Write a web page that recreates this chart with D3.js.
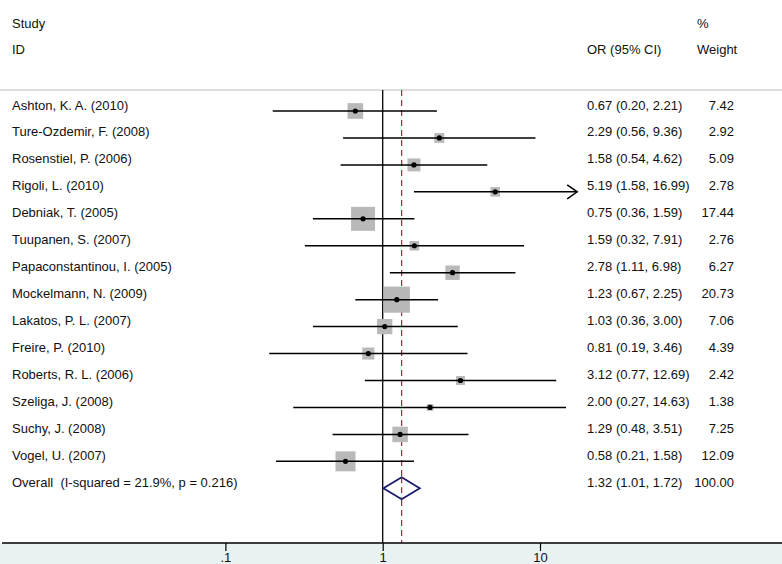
<!DOCTYPE html>
<html>
<head>
<meta charset="utf-8">
<script src="https://cdn.jsdelivr.net/npm/d3@7"></script>
<style>
  body { margin: 0; background: #fff; }
  svg { display: block; }
  text { font-family: "Liberation Sans", Arial, sans-serif; font-size: 13px; fill: #111; white-space: pre; }
</style>
</head>
<body>
<svg id="chart" width="782" height="564"></svg>
<script>
const studies = ["Ashton, K. A. (2010)", "Ture-Ozdemir, F. (2008)", "Rosenstiel, P. (2006)", "Rigoli, L. (2010)",
  "Debniak, T. (2005)", "Tuupanen, S. (2007)", "Papaconstantinou, I. (2005)", "Mockelmann, N. (2009)",
  "Lakatos, P. L. (2007)", "Freire, P. (2010)", "Roberts, R. L. (2006)", "Szeliga, J. (2008)",
  "Suchy, J. (2008)", "Vogel, U. (2007)"];
const or = [0.67, 2.29, 1.58, 5.19, 0.75, 1.59, 2.78, 1.23, 1.03, 0.81, 3.12, 2.00, 1.29, 0.58];
const lower = [0.20, 0.56, 0.54, 1.58, 0.36, 0.32, 1.11, 0.67, 0.36, 0.19, 0.77, 0.27, 0.48, 0.21];
const upper = [2.21, 9.36, 4.62, 16.99, 1.59, 7.91, 6.98, 2.25, 3.00, 3.46, 12.69, 14.63, 3.51, 1.58];
const weights = [7.42, 2.92, 5.09, 2.78, 17.44, 2.76, 6.27, 20.73, 7.06, 4.39, 2.42, 1.38, 7.25, 12.09];
const overallLabel = "Overall  (I-squared = 21.9%, p = 0.216)";
const overall = { or: 1.32, lower: 1.01, upper: 1.72, weight: 100.00 };
const xTicks = [0.1, 1, 10];
const xTickLabels = [".1", "1", "10"];
const axisClip = 16.5; // CIs beyond this are drawn with an arrow

const svg = d3.select("#chart");
const W = 782, H = 564;
const plotTop = 90, axisY = 543;

const x = d3.scaleLog().domain([0.1, 10]).range([225.4, 540]);
const y = d3.scaleLinear().domain([0, 14]).range([111, 488.3]);
const boxSide = d3.scaleSqrt().domain([0, 17.44]).range([0, 24]);

const fmt = d3.format(".2f");

// bottom axis band
svg.append("rect").attr("x", 0).attr("y", axisY).attr("width", W).attr("height", H - axisY).attr("fill", "#e9f1f3");

// top separator
svg.append("line").attr("x1", 0).attr("x2", W).attr("y1", plotTop).attr("y2", plotTop)
  .attr("stroke", "#bdbdbd").attr("stroke-width", 1);

// headers
svg.append("text").attr("x", 12).attr("y", 28).text("Study");
svg.append("text").attr("x", 12).attr("y", 54).text("ID");
svg.append("text").attr("x", 587).attr("y", 54).text("OR (95% CI)");
svg.append("text").attr("x", 697).attr("y", 28).text("%");
svg.append("text").attr("x", 697).attr("y", 54).text("Weight");

// null line
svg.append("line").attr("x1", x(1)).attr("x2", x(1)).attr("y1", plotTop).attr("y2", axisY)
  .attr("stroke", "#000").attr("stroke-width", 1.3);
// overall dashed line
svg.append("line").attr("x1", x(overall.or)).attr("x2", x(overall.or)).attr("y1", plotTop).attr("y2", axisY)
  .attr("stroke", "#8e1b2a").attr("stroke-width", 1.1).attr("stroke-dasharray", "6,4");

const rows = studies.map((s, i) => ({ s, or: or[i], lo: lower[i], hi: upper[i], w: weights[i], i }));

const g = svg.append("g");
rows.forEach(d => {
  const cy = y(d.i);
  const side = boxSide(d.w);
  g.append("rect").attr("x", x(d.or) - side / 2).attr("y", cy - side / 2)
    .attr("width", side).attr("height", side).attr("fill", "#b9b9b9");
  const hiX = d.hi > axisClip ? x(d.hi) + 1 : x(d.hi);
  g.append("line").attr("x1", x(d.lo)).attr("x2", hiX).attr("y1", cy).attr("y2", cy)
    .attr("stroke", "#000").attr("stroke-width", 1.5);
  if (d.hi > axisClip) {
    g.append("path").attr("d", `M${hiX - 10},${cy - 7} L${hiX},${cy} L${hiX - 10},${cy + 7}`)
      .attr("fill", "none").attr("stroke", "#000").attr("stroke-width", 1.5);
  }
  g.append("circle").attr("cx", x(d.or)).attr("cy", cy).attr("r", 2.6).attr("fill", "#000");

  svg.append("text").attr("x", 12).attr("y", cy - 1.5).text(d.s);
  svg.append("text").attr("x", 587).attr("y", cy - 1.5)
    .text(`${fmt(d.or)} (${fmt(d.lo)}, ${fmt(d.hi)})`);
  svg.append("text").attr("x", 734).attr("y", cy - 1.5).attr("text-anchor", "end").text(fmt(d.w));
});

// overall diamond
const oy = y(14);
svg.append("path")
  .attr("d", `M${x(overall.lower)},${oy} L${x(overall.or)},${oy - 11} L${x(overall.upper)},${oy} L${x(overall.or)},${oy + 11} Z`)
  .attr("fill", "#fff").attr("stroke", "#1b1b6e").attr("stroke-width", 1.8);
svg.append("line").attr("x1", x(overall.or)).attr("x2", x(overall.or)).attr("y1", oy - 11).attr("y2", oy + 11)
  .attr("stroke", "#8e1b2a").attr("stroke-width", 1.1).attr("stroke-dasharray", "6,4");
svg.append("text").attr("x", 12).attr("y", oy - 1.5).text(overallLabel);
svg.append("text").attr("x", 587).attr("y", oy - 1.5)
  .text(`${fmt(overall.or)} (${fmt(overall.lower)}, ${fmt(overall.upper)})`);
svg.append("text").attr("x", 734).attr("y", oy - 1.5).attr("text-anchor", "end").text(fmt(overall.weight));

// axis
const axis = d3.axisBottom(x).tickValues(xTicks).tickFormat((d, i) => xTickLabels[i]).tickSize(8).tickPadding(2);
const ag = svg.append("g").attr("transform", `translate(0,${axisY})`).call(axis);
ag.select(".domain").remove();
ag.selectAll(".tick line").attr("stroke", "#000").attr("stroke-width", 1.2);
ag.selectAll(".tick text").style("font-family", '"Liberation Sans", Arial, sans-serif').style("font-size", "13px").attr("fill", "#111");
svg.append("line").attr("x1", 2).attr("x2", W).attr("y1", axisY).attr("y2", axisY)
  .attr("stroke", "#000").attr("stroke-width", 1.3);
</script>
</body>
</html>
